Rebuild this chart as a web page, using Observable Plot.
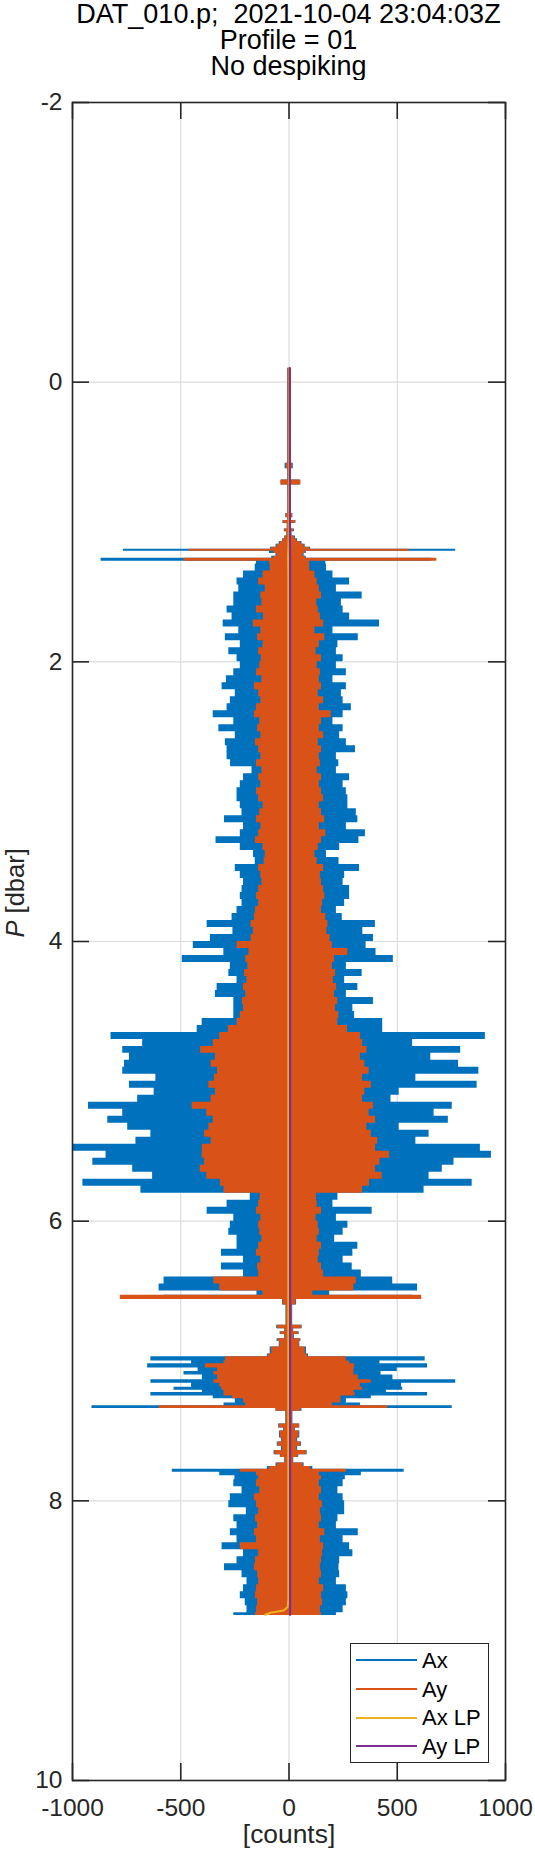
<!DOCTYPE html>
<html><head><meta charset="utf-8">
<script src="https://cdn.jsdelivr.net/npm/d3@7"></script>
<script src="https://cdn.jsdelivr.net/npm/@observablehq/plot@0.6"></script>
<style>
body{margin:0;background:#fff;}
#wrap{position:relative;width:535px;height:1860px;font-family:"Liberation Sans",Arial,Helvetica,sans-serif;color:#000;overflow:hidden;}
#title{position:absolute;left:72px;top:0;width:433px;padding-top:2.4px;text-align:center;font-size:27px;line-height:25.6px;white-space:pre;color:#000;}
#chart{position:absolute;left:0;top:80px;}
#legend{position:absolute;left:350px;top:1643px;width:139px;height:120px;box-sizing:border-box;border:1.5px solid #262626;background:#fff;}
.lg-line{position:absolute;left:5px;width:61px;height:2px;}
.lg-text{position:absolute;left:71px;font-size:22px;line-height:22px;color:#000;white-space:pre;}
</style></head>
<body><div id="wrap">
<div id="title"></div>
<div id="chart"></div>
<div id="legend"></div>
</div>
<script>
// ---- text ----
const titleLines = ["DAT_010.p;  2021-10-04 23:04:03Z", "Profile = 01", "No despiking"];
const xLabel = "[counts]";
const yLabel = "P [dbar]";
const xTicks = [-1000, -500, 0, 500, 1000];
const yTicks = [-2, 0, 2, 4, 6, 8, 10];
const seriesNames = ["Ax", "Ay", "Ax LP", "Ay LP"];
const seriesColors = ["#0072BD", "#D95319", "#EDB120", "#7E2F8E"];

// ---- envelope of the raw signals: each band runs from pressure[i] to the next level ----
const pressure = [
 -0.10, 0.58, 0.62, 0.70, 0.735, 0.94, 0.97, 0.99, 1.01, 1.05, 1.07, 1.10, 1.12, 1.14, 1.16, 1.18, 1.195, 1.21, 1.225, 1.245, 1.26, 1.28,
 1.30, 1.35, 1.40, 1.45, 1.50, 1.55, 1.60, 1.65, 1.70, 1.75,
 1.80, 1.85, 1.90, 1.95, 2.00, 2.05, 2.10, 2.15, 2.20, 2.25,
 2.30, 2.35, 2.40, 2.45, 2.50, 2.55, 2.60, 2.65, 2.70, 2.75,
 2.80, 2.85, 2.90, 2.95, 3.00, 3.05, 3.10, 3.15, 3.20, 3.25,
 3.30, 3.35, 3.40, 3.45, 3.50, 3.55, 3.60, 3.65, 3.70, 3.75,
 3.80, 3.85, 3.90, 3.95, 4.00, 4.05, 4.10, 4.15, 4.20, 4.25,
 4.30, 4.35, 4.40, 4.45, 4.50, 4.55, 4.60, 4.65, 4.70, 4.75,
 4.80, 4.85, 4.90, 4.95, 5.00, 5.05, 5.10, 5.15, 5.20, 5.25,
 5.30, 5.35, 5.40, 5.45, 5.50, 5.55, 5.60, 5.65, 5.70, 5.75,
 5.80, 5.85, 5.90, 5.95, 6.00, 6.05, 6.10, 6.15, 6.20, 6.25,
 6.30, 6.35, 6.40, 6.45, 6.50,
 6.53, 6.56, 6.60, 6.745, 6.77, 6.79, 6.81, 6.84, 6.86, 6.90, 6.95, 6.97, 7.00, 7.02, 7.05, 7.075, 7.10, 7.134, 7.16, 7.187, 7.21,
 7.225, 7.25, 7.27, 7.30, 7.32, 7.34, 7.36, 7.45, 7.48, 7.50, 7.55, 7.58, 7.61, 7.64, 7.67, 7.69, 7.73, 7.755, 7.775, 7.795, 7.82,
 7.85, 7.90, 7.95, 8.00, 8.05, 8.10, 8.15, 8.20, 8.25, 8.30,
 8.35, 8.40, 8.45, 8.50, 8.55, 8.60, 8.65, 8.70, 8.75, 8.80
];
const pressureEnd = 8.82;

const axMin = [
 -6, -18, -6, -35, -6, -15, -6, -28, -8, -22, -10, -20, -30, -45, -60, -85, -765, -90, -60, -80, -868, -150,
 -156, -210, -240, -232, -255, -255, -286, -263, -304, -232,
 -294, -225, -278, -240, -225, -255, -289, -309, -248, -271,
 -286, -350, -255, -324, -248, -294, -286, -286, -270, -171,
 -210, -225, -240, -240, -225, -217, -298, -210, -225, -337,
 -225, -164, -156, -248, -225, -210, -217, -225, -217, -240,
 -263, -378, -259, -363, -442, -301, -493, -271, -278, -240,
 -332, -340, -255, -255, -255, -401, -424, -822, -676, -768,
 -737, -760, -768, -615, -737, -623, -699, -926, -768, -837,
 -745, -638, -707, -998, -845, -906, -722, -630, -952, -684,
 -179, -286, -378, -255, -271, -278, -240, -240, -312, -210,
 -312, -210, -577, -600, -148,
 -577, -30, -14, -57, -20, -41, -20, -55, -45, -87, -100, -638, -450, -653, -420, -485, -400, -638, -450, -531, -400,
 -638, -350, -248, -300, -910, -60, -15, -48, -25, -44, -35, -54, -35, -69, -40, -20, -60, -100, -539, -320, -250,
 -255, -217, -271, -278, -197, -255, -240, -271, -240, -309,
 -210, -240, -298, -217, -194, -210, -225, -202, -194, -255
];
const axMax = [
 8, 20, 8, 50, 8, 18, 9, 32, 12, 25, 14, 30, 40, 60, 75, 100, 770, 80, 70, 80, 660, 170,
 173, 203, 280, 219, 338, 242, 250, 280, 418, 203,
 320, 226, 219, 250, 219, 265, 203, 265, 242, 250,
 288, 250, 203, 250, 234, 265, 307, 219, 230, 219,
 280, 250, 265, 272, 272, 311, 318, 265, 353, 323,
 234, 173, 231, 326, 257, 250, 280, 280, 257, 219,
 246, 399, 341, 390, 356, 402, 482, 265, 338, 257,
 318, 265, 390, 295, 303, 433, 433, 907, 571, 793,
 655, 783, 877, 586, 869, 509, 471, 754, 670, 736,
 509, 647, 586, 884, 935, 762, 708, 647, 846, 624,
 226, 203, 384, 219, 272, 250, 211, 318, 295, 250,
 292, 334, 479, 594, 188,
 571, 35, 17, 61, 22, 47, 25, 55, 50, 81, 90, 629, 420, 640, 500, 425, 480, 770, 520, 525, 450,
 640, 380, 265, 330, 754, 60, 18, 50, 30, 50, 40, 58, 40, 84, 45, 22, 70, 110, 532, 334, 260,
 250, 226, 250, 257, 257, 226, 219, 320, 250, 280,
 295, 234, 231, 234, 219, 265, 272, 265, 250, 219
];
const ayMin = [
 -5, -12, -5, -38, -5, -12, -5, -25, -8, -20, -10, -18, -28, -40, -55, -80, -460, -70, -55, -70, -485, -90,
 -87, -120, -140, -110, -130, -125, -150, -118, -165, -130,
 -145, -120, -140, -128, -135, -150, -125, -160, -140, -130,
 -150, -160, -135, -145, -130, -155, -140, -130, -150, -125,
 -140, -130, -150, -140, -120, -135, -150, -130, -140, -155,
 -120, -110, -115, -140, -130, -125, -140, -150, -140, -155,
 -160, -175, -165, -175, -240, -185, -200, -190, -205, -195,
 -210, -200, -215, -210, -225, -240, -280, -320, -350, -408,
 -340, -360, -330, -345, -370, -340, -360, -447, -380, -350,
 -370, -390, -360, -400, -401, -390, -410, -380, -317, -300,
 -133, -140, -150, -130, -140, -135, -125, -140, -150, -130,
 -145, -140, -347, -320, -120,
 -779, -28, -12, -52, -18, -38, -18, -50, -42, -80, -95, -294, -300, -386, -330, -347, -330, -347, -320, -310, -300,
 -300, -260, -210, -200, -600, -60, -13, -45, -23, -40, -32, -50, -30, -65, -38, -18, -55, -90, -225, -150, -140,
 -150, -135, -160, -150, -140, -155, -145, -160, -150, -225,
 -140, -155, -160, -145, -140, -150, -155, -145, -150, -155
];
const ayMax = [
 7, 16, 7, 55, 7, 16, 8, 30, 10, 22, 12, 25, 36, 55, 70, 95, 557, 75, 65, 75, 683, 95,
 96, 120, 130, 140, 150, 128, 135, 145, 160, 120,
 165, 140, 125, 150, 130, 145, 140, 150, 135, 160,
 140, 195, 150, 140, 160, 135, 150, 140, 145, 130,
 150, 140, 150, 160, 140, 150, 165, 140, 170, 150,
 135, 120, 130, 160, 145, 150, 160, 165, 155, 150,
 170, 180, 175, 190, 200, 272, 210, 200, 215, 205,
 220, 210, 225, 215, 230, 225, 270, 330, 340, 360,
 330, 350, 370, 340, 380, 350, 340, 390, 370, 400,
 360, 380, 410, 400, 464, 420, 400, 430, 372, 340,
 127, 130, 150, 125, 135, 140, 130, 150, 140, 135,
 150, 160, 311, 300, 110,
 613, 32, 15, 58, 20, 44, 22, 52, 48, 75, 85, 265, 280, 303, 300, 300, 320, 380, 330, 340, 300,
 305, 240, 240, 200, 456, 55, 16, 48, 28, 46, 36, 55, 36, 80, 42, 20, 65, 100, 265, 140, 150,
 140, 150, 140, 155, 145, 150, 140, 165, 145, 160,
 155, 150, 145, 150, 140, 160, 150, 155, 145, 150
];

// ---- low-passed signals ----
const lpPressure = [-0.10, 1.10, 1.25, 1.40, 8.70, 8.76, 8.785, 8.80, 8.815];
const axLP = [2, -1, -4, -3, -3, -6, -25, -85, -110];
const ayLP = [4, 4, 5, 5, 5, 5, 5, 5, 5];

// ---- tables built from the arrays ----
function bands(lo, hi) {
  const rows = [];
  for (let i = 0; i < pressure.length; i++) {
    const top = pressure[i];
    const bottom = i + 1 < pressure.length ? pressure[i + 1] : pressureEnd;
    rows.push({p: top, lo: lo[i], hi: hi[i]}, {p: bottom, lo: lo[i], hi: hi[i]});
  }
  return rows;
}
const axRows = bands(axMin, axMax);
const ayRows = bands(ayMin, ayMax);
const lpRows = lpPressure.map((p, i) => ({p, ax: axLP[i], ay: ayLP[i]}));

// ---- title ----
document.getElementById("title").innerHTML = titleLines.map(t => `<div>${t}</div>`).join("");

// ---- plot ----
const W = 535, H = 1780, mt = 22, mb = 80, ml = 72, mr = 30;
const fw = W - ml - mr, fh = H - mt - mb;
const tickLen = 17;
const axisColor = "#262626";
const font = '"Liberation Sans", Arial, Helvetica, sans-serif';

const chart = Plot.plot({
  width: W, height: H,
  marginTop: mt, marginBottom: mb, marginLeft: ml, marginRight: mr,
  style: {fontFamily: font, fontSize: "24.5px", color: axisColor, background: "white", overflow: "visible"},
  x: {domain: [-1000, 1000], axis: null},
  y: {domain: [-2, 10], reverse: true, axis: null},
  marks: [
    Plot.gridX(xTicks, {stroke: "#dcdcdc", strokeOpacity: 1, strokeWidth: 1.2}),
    Plot.gridY(yTicks, {stroke: "#dcdcdc", strokeOpacity: 1, strokeWidth: 1.2}),
    Plot.areaX(axRows, {y: "p", x1: "lo", x2: "hi", fill: seriesColors[0]}),
    Plot.areaX(ayRows, {y: "p", x1: "lo", x2: "hi", fill: seriesColors[1]}),
    Plot.lineX(lpRows, {x: "ax", y: "p", stroke: seriesColors[2], strokeWidth: 2}),
    Plot.lineX(lpRows, {x: "ay", y: "p", stroke: seriesColors[3], strokeWidth: 2.2}),
    Plot.frame({stroke: axisColor, strokeWidth: 1.6}),
    Plot.tickX(xTicks, {x: d => d, insetTop: fh - tickLen, stroke: axisColor, strokeWidth: 1.6}),
    Plot.tickX(xTicks, {x: d => d, insetBottom: fh - tickLen, stroke: axisColor, strokeWidth: 1.6}),
    Plot.tickY(yTicks, {y: d => d, insetRight: fw - tickLen, stroke: axisColor, strokeWidth: 1.6}),
    Plot.tickY(yTicks, {y: d => d, insetLeft: fw - tickLen, stroke: axisColor, strokeWidth: 1.6}),
    Plot.axisX(xTicks, {tickSize: 0, tickPadding: 18, tickFormat: d => String(d), label: null, fill: axisColor}),
    Plot.axisY(yTicks, {tickSize: 0, tickPadding: 10, tickFormat: d => String(d), label: null, fill: axisColor}),
    Plot.text([xLabel], {frameAnchor: "bottom", dy: 62.5, fontSize: 26.4, fill: axisColor}),
    Plot.text([yLabel], {frameAnchor: "left", rotate: -90, dx: -56.6, dy: -4, fontSize: 25.5, fill: axisColor})
  ]
});
document.getElementById("chart").appendChild(chart);

// italic P in the y label
d3.select(chart).selectAll("text").filter(function() { return this.textContent === yLabel; })
  .each(function() {
    const t = d3.select(this);
    t.text(null);
    t.append("tspan").attr("font-style", "italic").text(yLabel.slice(0, 1));
    t.append("tspan").text("\u00a0" + yLabel.slice(2));
  });

// ---- legend ----
const rowY = [16, 45, 73.5, 102];
document.getElementById("legend").innerHTML = seriesNames.map((n, i) =>
  `<div class="lg-line" style="top:${rowY[i] - 1}px;background:${seriesColors[i]}"></div>` +
  `<div class="lg-text" style="top:${rowY[i] - 10.5}px">${n}</div>`).join("");
</script>
</body></html>
